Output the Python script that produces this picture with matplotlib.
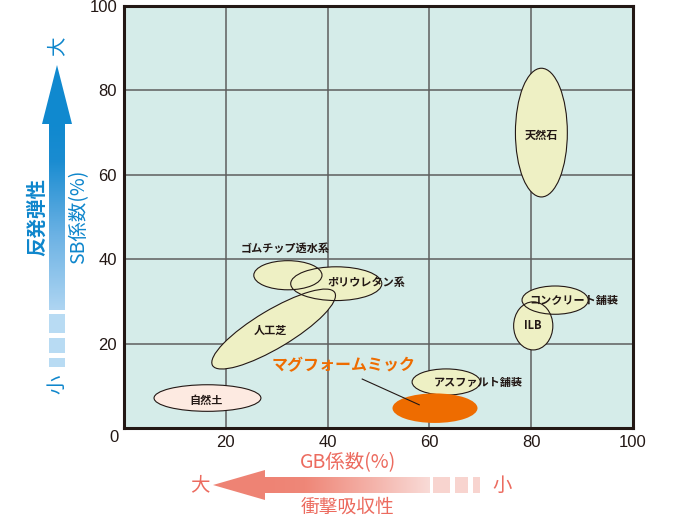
import numpy as np
import matplotlib
matplotlib.use('Agg')
import matplotlib.pyplot as plt
from matplotlib.patches import Ellipse, Polygon, Rectangle
from matplotlib.colors import LinearSegmentedColormap
from matplotlib.transforms import IdentityTransform

plt.rcParams['font.family'] = ['Noto Sans CJK JP', 'DejaVu Sans']

# ellipses: centre (GB, SB) and extent in data units
names = ['天然石', 'コンクリート舗装', 'ILB', 'アスファルト舗装', 'マグフォームミック',
         '自然土', 'ゴムチップ透水系', 'ポリウレタン系']
gb_mid = [82.0, 84.7, 80.4, 63.3, 61.1, 16.4, 32.2, 41.7]
sb_mid = [70.0, 30.3, 24.2, 10.9, 4.7, 7.1, 36.2, 34.2]
gb_span = [10.2, 13.0, 7.7, 13.4, 16.7, 21.0, 13.4, 17.9]
sb_span = [30.5, 6.7, 11.4, 6.2, 7.0, 6.3, 6.9, 8.0]
label_gb = [82.0, 88.3, 80.4, 69.7, 43.2, 16.2, 31.6, 47.7]
label_sb = [69.4, 30.3, 24.2, 10.7, 14.9, 6.6, 42.6, 34.4]

# artificial turf: tilted ellipse, major axis end points in data units
turf_name = '人工芝'
turf_gb = [17.4, 41.4]
turf_sb = [14.8, 32.1]
turf_label = (28.7, 23.2)

ticks = [0, 20, 40, 60, 80, 100]
tick_labels = ['', '20', '40', '60', '80', '100']

PALE = '#eef0c4'
PINK = '#fdeae1'
ORANGE = '#ee6c00'
INK = '#231815'

fig = plt.figure(figsize=(6.9, 5.2), dpi=100)
ax = fig.add_axes([124/690, 92/520, 509/690, 422/520])
ax.set_xlim(0, 100)
ax.set_ylim(0, 100)
ax.set_facecolor('#d5ece9')
ax.set_xticks(ticks)
ax.set_yticks(ticks)
ax.set_xticklabels(tick_labels)
ax.set_yticklabels(tick_labels)
ax.grid(True, color='#5e5e5e', lw=1.1)
ax.set_axisbelow(True)
for s in ax.spines.values():
    s.set_linewidth(2.2)
    s.set_color(INK)
ax.tick_params(length=0, labelsize=12, labelcolor=INK, pad=5)
for lbl in ax.get_xticklabels() + ax.get_yticklabels():
    lbl.set_fontfamily('Liberation Sans')
ax.text(-0.02, -0.022, '0', transform=ax.transAxes, ha='center', va='center',
        fontsize=12, color=INK, family='Liberation Sans')

for i, name in enumerate(names):
    if name == 'マグフォームミック':
        ax.add_patch(Ellipse((gb_mid[i], sb_mid[i]), gb_span[i], sb_span[i],
                             fc=ORANGE, ec='none', zorder=4))
        continue
    fc = PINK if name == '自然土' else PALE
    ax.add_patch(Ellipse((gb_mid[i], sb_mid[i]), gb_span[i], sb_span[i],
                         fc=fc, ec='none', zorder=2))
    ax.add_patch(Ellipse((gb_mid[i], sb_mid[i]), gb_span[i], sb_span[i],
                         fill=False, ec=INK, lw=0.8, zorder=3))

# tilted turf ellipse built in display space
p1 = ax.transData.transform((turf_gb[0], turf_sb[0]))
p2 = ax.transData.transform((turf_gb[1], turf_sb[1]))
cen = (p1 + p2) / 2
length = np.hypot(*(p2 - p1))
ang = np.degrees(np.arctan2(p2[1] - p1[1], p2[0] - p1[0]))
ax.add_patch(Ellipse(cen, length, 38, angle=ang, fc=PALE, ec='none',
                     transform=IdentityTransform(), zorder=2))
ax.add_patch(Ellipse(cen, length, 38, angle=ang, fill=False, ec=INK, lw=0.8,
                     transform=IdentityTransform(), zorder=3))

for i, name in enumerate(names):
    if name == 'マグフォームミック':
        ax.text(label_gb[i], label_sb[i], name, ha='center', va='center',
                fontsize=11.5, fontweight='bold', color=ORANGE, zorder=6)
        ax.plot([46.8, 58.0], [11.6, 5.5], color=INK, lw=0.8, zorder=5)
    else:
        ax.text(label_gb[i], label_sb[i], name, ha='center', va='center',
                fontsize=8, fontweight='bold', color=INK, zorder=6)
ax.text(turf_label[0], turf_label[1], turf_name, ha='center', va='center',
        fontsize=8, fontweight='bold', color=INK, zorder=6)

# overlay in pixel coordinates for the direction arrows
ov = fig.add_axes([0, 0, 1, 1])
ov.set_xlim(0, 690)
ov.set_ylim(520, 0)
ov.set_axis_off()

BLUE = '#0e86cc'
blue_cmap = LinearSegmentedColormap.from_list(
    'b', [(0, '#1089cf'), (0.2, '#1a8cd1'), (0.6, '#6cb2e4'), (1, '#aed5f2')])
grad = np.linspace(0, 1, 256).reshape(-1, 1)
ov.imshow(grad, cmap=blue_cmap, extent=(49, 65, 310, 123), origin='upper',
          aspect='auto', interpolation='bilinear')
ov.add_patch(Polygon([(42, 124), (72, 124), (57, 65)], closed=True, fc='#1089cf', ec='none'))
for y0, hh in [(314, 19), (338, 15), (358, 9)]:
    ov.add_patch(Rectangle((49, y0), 16, hh, fc='#b8dbf3', ec='none'))
ov.text(57, 46, '大', rotation=90, ha='center', va='center', fontsize=14, color=BLUE)
ov.text(57, 384, '小', rotation=90, ha='center', va='center', fontsize=14, color=BLUE)
ov.text(37, 217, '反発弾性', rotation=90, ha='center', va='center', fontsize=14,
        color=BLUE, fontweight='bold')
ov.text(79, 217, 'SB係数(%)', rotation=90, ha='center', va='center', fontsize=14,
        color=BLUE)

RED = '#ec6b5f'
red_cmap = LinearSegmentedColormap.from_list(
    'r', [(0, '#ee8374'), (0.25, '#ef8778'), (0.65, '#f4b2a9'), (1, '#f9dbd7')])
grad_h = np.linspace(0, 1, 256).reshape(1, -1)
ov.imshow(grad_h, cmap=red_cmap, extent=(264, 430, 493, 477), origin='upper',
          aspect='auto', interpolation='bilinear')
ov.add_patch(Polygon([(213, 485), (265, 470), (265, 500)], closed=True, fc='#ee8374', ec='none'))
for x0, ww in [(433, 17), (455, 13), (473, 7)]:
    ov.add_patch(Rectangle((x0, 477), ww, 16, fc='#f8d4cf', ec='none'))
ov.text(200, 485, '大', ha='center', va='center', fontsize=14, color=RED)
ov.text(502, 485, '小', ha='center', va='center', fontsize=14, color=RED)
ov.text(348, 463, 'GB係数(%)', ha='center', va='center', fontsize=14, color=RED)
ov.text(348, 507, '衝撃吸収性', ha='center', va='center', fontsize=13.5, color=RED)

fig.savefig('out.png', dpi=100)
